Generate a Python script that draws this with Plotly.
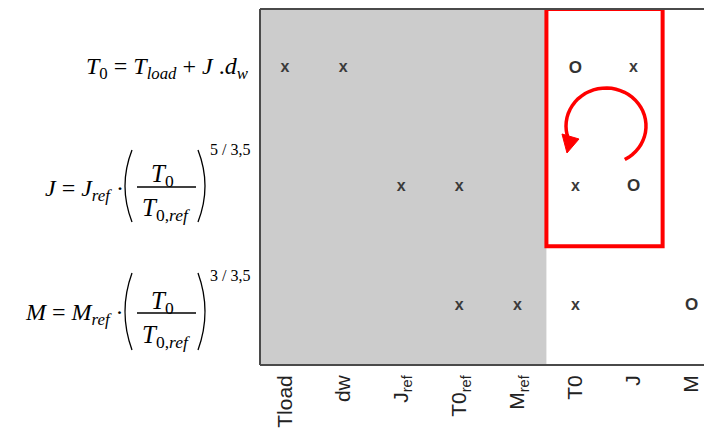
import math
import plotly.graph_objects as go

# ---- data ----
columns = ["Tload", "dw", "J_ref", "T0_ref", "M_ref", "T0", "J", "M"]
tick_labels = ["Tload", "dw", "J<sub>ref</sub>", "T0<sub>ref</sub>", "M<sub>ref</sub>", "T0", "J", "M"]
rows = ["T0", "J", "M"]
row_T0 = ["x", "x", "", "", "", "o", "x", ""]
row_J = ["", "", "x", "x", "", "x", "o", ""]
row_M = ["", "", "", "x", "x", "x", "", "o"]
n_known = 5          # shaded (known) columns
loop_rows = 2        # rows inside the red algebraic loop
loop_cols = ["T0", "J"]

# ---- layout geometry (page pixels; page body has an 8px margin) ----
OFF = 8
L, T, W, H = 260, 9, 452, 356
FIG_W, FIG_H = 712 - OFF, 434 - OFF


def px(x):
    return (x - L) / W


def py(y):
    return (T + H - y) / H


fig = go.Figure()

matrix = [row_T0, row_J, row_M]
for r, vals in enumerate(matrix):
    for sym, font in (("x", dict(family="Arial", size=16, color="#3a3a3a", weight="bold")),
                      ("o", dict(family="Arial", size=17, color="#333333", weight="bold"))):
        xs = [i for i, v in enumerate(vals) if v == sym]
        if not xs:
            continue
        fig.add_trace(go.Scatter(
            x=xs, y=[r] * len(xs), mode="text",
            text=["x" if sym == "x" else "O"] * len(xs),
            textposition="middle center", textfont=font,
            hoverinfo="skip", showlegend=False, cliponaxis=False))

shapes = []
# gray known region
shapes.append(dict(type="rect", xref="x", yref="paper", x0=-0.5, x1=n_known - 0.5,
                   y0=0, y1=1, fillcolor="#cccccc", line=dict(width=0), layer="below"))
# red loop box
c0 = columns.index(loop_cols[0])
c1 = columns.index(loop_cols[1])
shapes.append(dict(type="rect", xref="x", yref="y", x0=c0 - 0.5, x1=c1 + 0.5,
                   y0=-0.5, y1=loop_rows - 0.5, line=dict(color="#ff0000", width=4),
                   fillcolor="rgba(0,0,0,0)", layer="above"))
# frame lines
frame = dict(color="#4a4a4a", width=2)
shapes.append(dict(type="line", xref="paper", yref="paper", x0=0, x1=0, y0=0, y1=1, line=frame))
shapes.append(dict(type="line", xref="paper", yref="paper", x0=0, x1=1, y0=1, y1=1, line=frame))
shapes.append(dict(type="line", xref="paper", yref="paper", x0=0, x1=1, y0=0, y1=0, line=frame))

# circular arrow
cx, cy, rx, ry = 606, 126, 40, 38
pts = []
a0, a1 = -62, 200
n = 40
for k in range(n + 1):
    a = math.radians(a0 + (a1 - a0) * k / n)
    pts.append((cx + rx * math.cos(a), cy - ry * math.sin(a)))
path = "M " + " L ".join(f"{px(x):.5f},{py(y):.5f}" for x, y in pts)
shapes.append(dict(type="path", xref="paper", yref="paper", path=path,
                   line=dict(color="#ff0000", width=3.5)))
tri = [(567, 153), (579, 139), (562, 134)]
tpath = "M " + " L ".join(f"{px(x):.5f},{py(y):.5f}" for x, y in tri) + " Z"
shapes.append(dict(type="path", xref="paper", yref="paper", path=tpath,
                   fillcolor="#ff0000", line=dict(color="#ff0000", width=1)))

# equations: fraction lines and parentheses
serif = "Liberation Serif, Times New Roman, serif"
for (yl, top, bot) in ((187, 150, 222), (313, 273, 350)):
    shapes.append(dict(type="line", xref="paper", yref="paper", x0=px(137), x1=px(196),
                       y0=py(yl), y1=py(yl), line=dict(color="black", width=1.3)))
    mid = (top + bot) / 2
    shapes.append(dict(type="path", xref="paper", yref="paper",
                       path=f"M {px(132)},{py(top)} Q {px(118)},{py(mid)} {px(132)},{py(bot)}",
                       line=dict(color="black", width=1.3)))
    shapes.append(dict(type="path", xref="paper", yref="paper",
                       path=f"M {px(198)},{py(top)} Q {px(212)},{py(mid)} {px(198)},{py(bot)}",
                       line=dict(color="black", width=1.3)))

ann = []


def add(text, x, y, xanchor="center", size=24):
    ann.append(dict(text=text, xref="paper", yref="paper", x=px(x), y=py(y),
                    xanchor=xanchor, yanchor="middle", showarrow=False,
                    font=dict(family=serif, size=size, color="black")))


add("<i>T</i><sub>0</sub>&nbsp;=&nbsp;<i>T</i><sub><i>load</i></sub>&nbsp;+&nbsp;<i>J</i>&nbsp;.<i>d</i><sub><i>w</i></sub>", 251, 68, "right")
add("<i>J</i>&nbsp;=&nbsp;<i>J</i><sub><i>ref</i></sub>&nbsp;·", 126, 190, "right")
add("<i>M</i>&nbsp;=&nbsp;<i>M</i><sub><i>ref</i></sub>&nbsp;·", 126, 314, "right")
for (yn, yd, ys, sup) in ((175, 209, 149, "5 / 3,5"), (302, 336, 275, "3 / 3,5")):
    add("<i>T</i><sub>0</sub>", 162, yn, size=25)
    add("<i>T</i><sub>0,<i>ref</i></sub>", 166, yd, size=25)
    add(sup, 208, ys, "left", size=16)

fig.update_layout(
    width=FIG_W, height=FIG_H,
    margin=dict(l=L - OFF, r=FIG_W - (L - OFF) - W, t=T - OFF, b=FIG_H - (T - OFF) - H),
    paper_bgcolor="white", plot_bgcolor="white",
    shapes=shapes, annotations=ann,
    xaxis=dict(range=[-0.43, 7.35], tickmode="array", tickvals=list(range(len(columns))),
               ticktext=tick_labels, tickangle=-90, showgrid=False, zeroline=False,
               showline=False, ticks="", ticklabelstandoff=5,
               tickfont=dict(family="Arial", size=21, color="#222222"),
               fixedrange=True),
    yaxis=dict(range=[2.5, -0.5], showticklabels=False, showgrid=False, zeroline=False,
               showline=False, ticks="", fixedrange=True),
)

fig.write_html("out.html")
